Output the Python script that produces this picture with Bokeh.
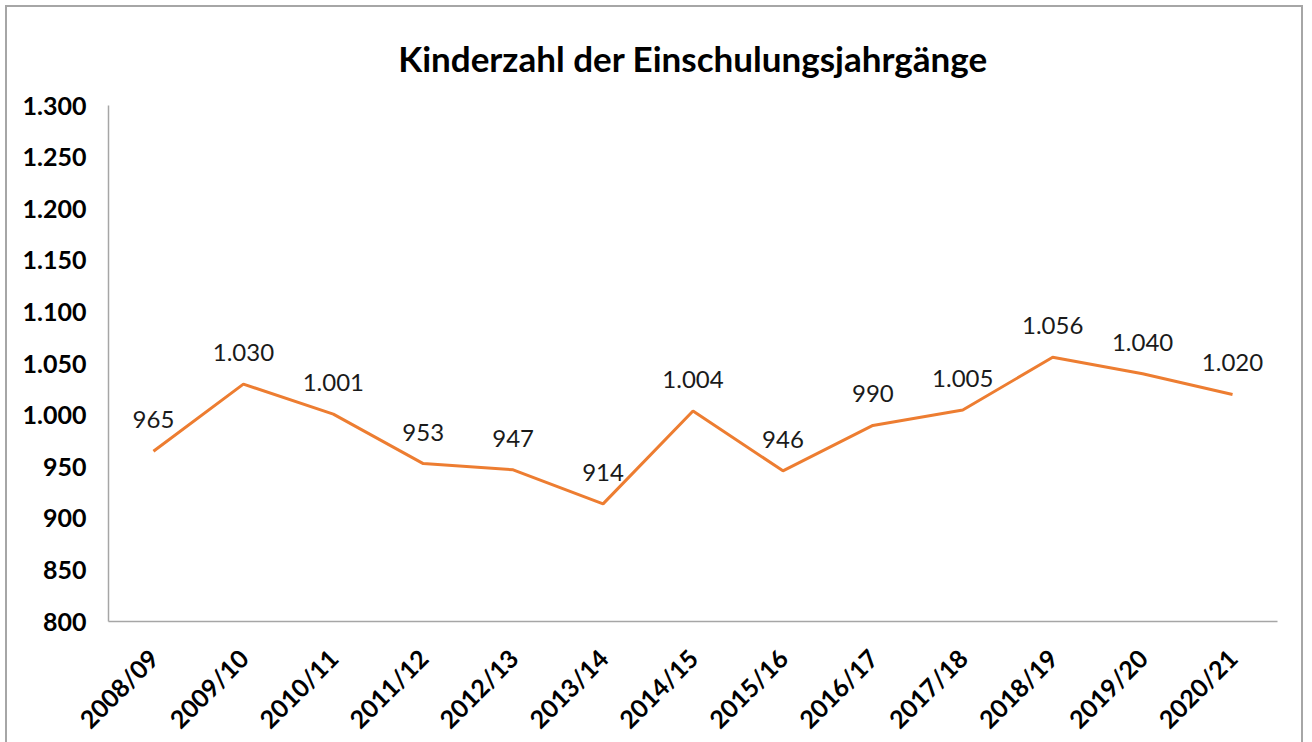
import math
from bokeh.plotting import figure
from bokeh.models import FactorRange, Range1d, ColumnDataSource, FixedTicker
from bokeh.embed import file_html
from bokeh.resources import INLINE
from bokeh.core.properties import value

years = ["2008/09", "2009/10", "2010/11", "2011/12", "2012/13", "2013/14", "2014/15",
         "2015/16", "2016/17", "2017/18", "2018/19", "2019/20", "2020/21"]
kinder = [965, 1030, 1001, 953, 947, 914, 1004, 946, 990, 1005, 1056, 1040, 1020]
y_ticks = [800, 850, 900, 950, 1000, 1050, 1100, 1150, 1200, 1250, 1300]
title_text = "Kinderzahl der Einschulungsjahrgänge"


def de_fmt(v):
    return f"{v:,}".replace(",", ".")


src = ColumnDataSource(dict(x=years, y=kinder, lab=[de_fmt(v) for v in kinder]))

FONT = "Lato"

p = figure(x_range=FactorRange(*years, range_padding=0), y_range=Range1d(800, 1300),
           width=1298, height=750, output_backend="svg", toolbar_location=None,
           title=title_text,
           min_border_left=101, min_border_right=28, min_border_top=98, min_border_bottom=136)
p.styles = {"border": "2px solid #a6a6a6", "margin-left": "5px", "margin-top": "5px"}

p.title.align = "center"
p.title.text_font = FONT
p.title.text_font_size = "35px"
p.title.text_font_style = "bold"
p.title.text_color = "#000000"
p.title.standoff = 54

p.outline_line_color = None
p.xgrid.grid_line_color = None
p.ygrid.grid_line_color = None

p.line("x", "y", source=src, line_color="#ED7D31", line_width=3)
p.text("x", "y", text="lab", source=src, text_align="center", text_baseline="bottom",
       y_offset=-23, text_font=value(FONT), text_font_size="24px", text_color="#1a1a1a")

for ax in (p.xaxis[0], p.yaxis[0]):
    ax.axis_line_color = "#a6a6a6"
    ax.axis_line_width = 1.5
    ax.major_tick_line_color = None
    ax.minor_tick_line_color = None
    ax.major_tick_out = 0
    ax.major_tick_in = 0
    ax.major_label_text_font = FONT
    ax.major_label_text_font_size = "25px"
    ax.major_label_text_font_style = "bold"
    ax.major_label_text_color = "#000000"

p.yaxis.ticker = FixedTicker(ticks=y_ticks)
p.yaxis.major_label_overrides = {t: de_fmt(t) for t in y_ticks}
p.yaxis.major_label_standoff = 22
p.xaxis.major_label_orientation = math.pi / 4
p.xaxis.major_label_standoff = 32

open("out.html", "w").write(file_html(p, INLINE))
